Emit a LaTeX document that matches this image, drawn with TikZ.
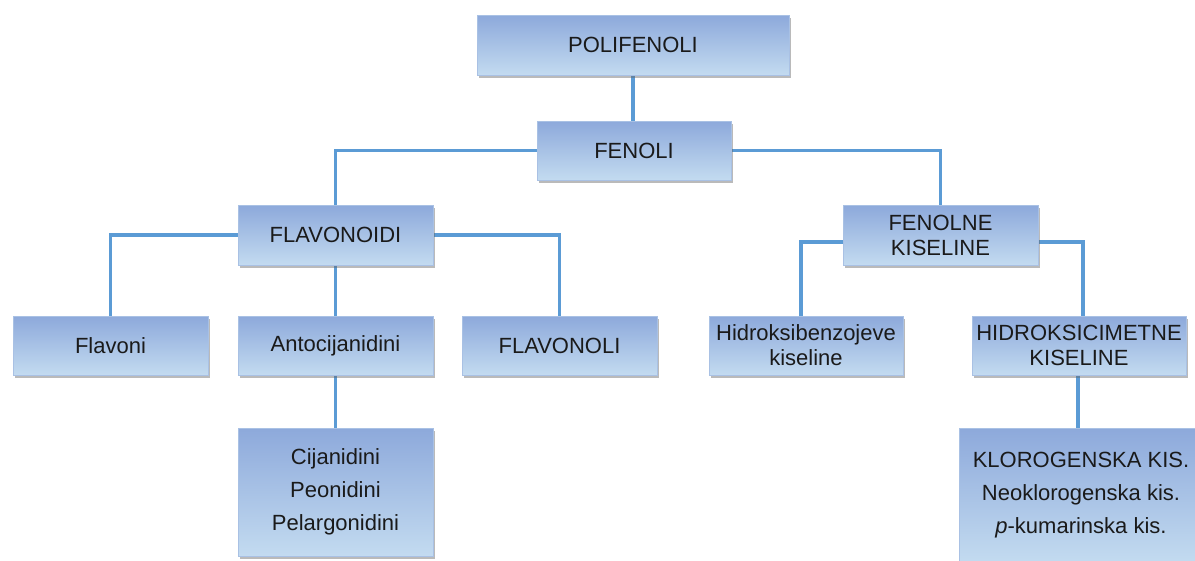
\documentclass[tikz,border=0pt]{standalone}
\usepackage{fontspec}
\setmainfont{Liberation Sans}
\usetikzlibrary{shadows,backgrounds}
\definecolor{boxtop}{HTML}{8DA9DB}
\definecolor{boxbot}{HTML}{C3DBF0}
\definecolor{boxedge}{HTML}{A9C1E4}
\definecolor{linkc}{HTML}{5B9BD5}
\definecolor{txt}{HTML}{1A1A1A}
\tikzset{
  box/.style={rectangle, top color=boxtop, bottom color=boxbot, draw=boxedge, line width=0.4pt,
    minimum width=195pt, minimum height=60pt, inner sep=0pt, align=center, text=txt,
    font=\fontsize{22}{25}\selectfont,
    drop shadow={shadow xshift=2pt, shadow yshift=-3pt, opacity=0.45, fill=black!60}},
  link/.style={draw=linkc, line width=3.8pt}
}
\begin{document}
\begin{tikzpicture}[x=1pt,y=-1pt]
\useasboundingbox (0,0) rectangle (1195,560);
\node[box, minimum width=312pt] (poli) at (633,45) {POLIFENOLI};
\node[box, minimum width=194pt, minimum height=59pt] (fenoli) at (634,150.5) {FENOLI};
\node[box] (flavonoidi) at (335.5,235) {FLAVONOIDI};
\node[box] (fenolne) at (940.5,235) {FENOLNE\\KISELINE};
\node[box, minimum height=59pt] (flavoni) at (110.5,345.5) {Flavoni};
\node[box, minimum height=59pt] (antoc) at (335.5,345.5) {Antocijanidini};
\node[box, minimum height=59pt] (flavonoli) at (559.5,345.5) {FLAVONOLI};
\node[box, minimum width=194pt, minimum height=59pt] (hidb) at (806,345.5) {Hidroksibenzojeve\\kiseline};
\node[box, minimum width=214pt, minimum height=59pt] (hcim) at (1079,345.5) {HIDROKSICIMETNE\\KISELINE};
\node[box, minimum height=128pt, font=\fontsize{22}{33}\selectfont] (cij) at (335.5,492) {Cijanidini\\Peonidini\\Pelargonidini};
\node[box, minimum width=244pt, minimum height=134pt, font=\fontsize{22}{33}\selectfont] (klor) at (1081,495) {KLOROGENSKA KIS.\\Neoklorogenska kis.\\\textit{p}-kumarinska kis.};
\begin{scope}[on background layer]
\fill[white] (0,0) rectangle (1195,560);
\draw[link] (poli.south) -- (poli.south |- fenoli.north);
\draw[link] (fenoli.west) -| (flavonoidi.north);
\draw[link] (fenoli.east) -| (fenolne.north);
\draw[link] (flavonoidi.west) -| (flavoni.north);
\draw[link] (flavonoidi.east) -| (flavonoli.north);
\draw[link] (flavonoidi.south) -- (antoc.north);
\draw[link] (antoc.south) -- (cij.north);
\draw[link] ([yshift=-7pt]fenolne.west) -| ([xshift=-5pt]hidb.north);
\draw[link] ([yshift=-7pt]fenolne.east) -| ([xshift=4pt]hcim.north);
\draw[link] ([xshift=-1pt]hcim.south) -- ([xshift=-1pt]hcim.south |- klor.north);
\end{scope}
\end{tikzpicture}
\end{document}
